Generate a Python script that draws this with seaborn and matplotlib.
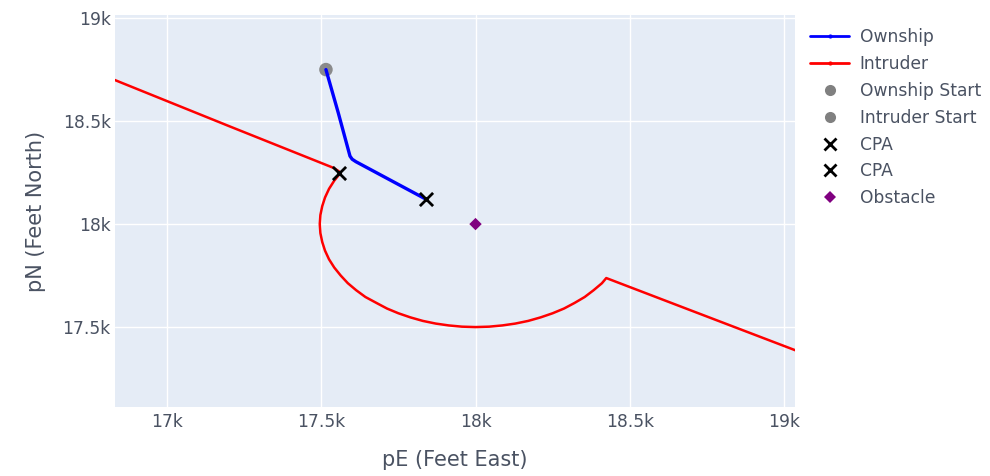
import matplotlib
matplotlib.use("Agg")
import matplotlib.pyplot as plt
import seaborn as sns
import pandas as pd
from matplotlib.ticker import FuncFormatter
from matplotlib.lines import Line2D

# ---- data ----
own_e = [17515, 17555, 17593, 17600, 17612, 17839]
own_n = [18750, 18540, 18330, 18315, 18303, 18121]

intr_e = [16500, 16831, 17200, 17541, 17563, 17542, 17525, 17512, 17503, 17497,
          17495, 17497, 17503, 17512, 17525, 17542, 17563, 17586, 17613, 17643,
          17679, 17713, 17750, 17789, 17829, 17871, 17913, 17956, 18000, 18044,
          18087, 18129, 18171, 18211, 18250, 18287, 18321, 18354, 18383, 18410,
          18424, 18700, 19036, 19300]
intr_n = [18898, 18699, 18476, 18272, 18250, 18211, 18171, 18129, 18087, 18044,
          18000, 17956, 17913, 17871, 17829, 17789, 17750, 17713, 17679, 17646,
          17617, 17590, 17567, 17547, 17530, 17517, 17508, 17502, 17500, 17502,
          17508, 17517, 17530, 17547, 17567, 17590, 17617, 17646, 17679, 17713,
          17738, 17580, 17388, 17238]

own_start = (17515, 18750)
intr_start = (16500, 18898)
cpa_own = (17839, 18121)
cpa_intr = (17557, 18248)
obstacle = (18000, 18000)

x_ticks = [17000, 17500, 18000, 18500, 19000]
y_ticks = [17500, 18000, 18500, 19000]

# ---- style ----
sns.set_theme(style="darkgrid", rc={
    "axes.facecolor": "#E5ECF6",
    "grid.color": "white",
    "grid.linewidth": 1.0,
    "axes.edgecolor": "#E5ECF6",
})
plt.rcParams['font.family'] = ['DejaVu Sans']
txt = "#4a5262"

fig = plt.figure(figsize=(9.9, 4.76), dpi=100)
ax = fig.add_axes([115/990, 1-407/476, (795-115)/990, (407-15)/476])

own_df = pd.DataFrame({"pE": own_e, "pN": own_n})
intr_df = pd.DataFrame({"pE": intr_e, "pN": intr_n})

sns.lineplot(data=own_df, x="pE", y="pN", sort=False, estimator=None,
             color="#0000ff", linewidth=2.4, ax=ax, zorder=4)
sns.lineplot(data=intr_df, x="pE", y="pN", sort=False, estimator=None,
             color="#ff0000", linewidth=1.8, ax=ax, zorder=2)

sns.scatterplot(x=[own_start[0]], y=[own_start[1]], color="gray", s=95,
                edgecolor="none", alpha=0.9, ax=ax, zorder=3)
sns.scatterplot(x=[intr_start[0]], y=[intr_start[1]], color="gray", s=95,
                edgecolor="none", alpha=0.9, ax=ax, zorder=3)
sns.scatterplot(x=[cpa_own[0]], y=[cpa_own[1]], marker="x", color="black",
                s=90, linewidth=2, ax=ax, zorder=5)
sns.scatterplot(x=[cpa_intr[0]], y=[cpa_intr[1]], marker="x", color="black",
                s=90, linewidth=2, ax=ax, zorder=5)
sns.scatterplot(x=[obstacle[0]], y=[obstacle[1]], marker="D", color="purple",
                s=40, edgecolor="none", ax=ax, zorder=5)

ax.set_xlim(16831, 19036)
ax.set_ylim(17112, 19015)
ax.set_xticks(x_ticks)
ax.set_yticks(y_ticks)
fmt = FuncFormatter(lambda v, p: (f"{v/1000:g}k"))
ax.xaxis.set_major_formatter(fmt)
ax.yaxis.set_major_formatter(fmt)
ax.tick_params(axis="x", length=0, labelsize=12.3, colors=txt, pad=4)
ax.tick_params(axis="y", length=0, labelsize=12.3, colors=txt, pad=3)
for s in ax.spines.values():
    s.set_visible(False)
ax.set_xlabel("pE (Feet East)", fontsize=15, color=txt, labelpad=14)
ax.set_ylabel("pN (Feet North)", fontsize=15, color=txt, labelpad=12)

handles = [
    Line2D([], [], color="#0000ff", lw=2, marker="o", ms=2),
    Line2D([], [], color="#ff0000", lw=2, marker="o", ms=2),
    Line2D([], [], color="gray", lw=0, marker="o", ms=8, markeredgewidth=0),
    Line2D([], [], color="gray", lw=0, marker="o", ms=8, markeredgewidth=0),
    Line2D([], [], color="black", lw=0, marker="x", ms=9, markeredgewidth=2),
    Line2D([], [], color="black", lw=0, marker="x", ms=9, markeredgewidth=2),
    Line2D([], [], color="purple", lw=0, marker="D", ms=6, markeredgewidth=0),
]
labels = ["Ownship", "Intruder", "Ownship Start", "Intruder Start", "CPA", "CPA", "Obstacle"]
leg = fig.legend(handles, labels, loc="upper left", bbox_to_anchor=(810/990, 1-28/476),
                 frameon=False, fontsize=12.3, handlelength=2.3, labelspacing=0.52,
                 handletextpad=0.6, borderaxespad=0, borderpad=0)
for t in leg.get_texts():
    t.set_color(txt)

fig.savefig("out.png", dpi=100)
